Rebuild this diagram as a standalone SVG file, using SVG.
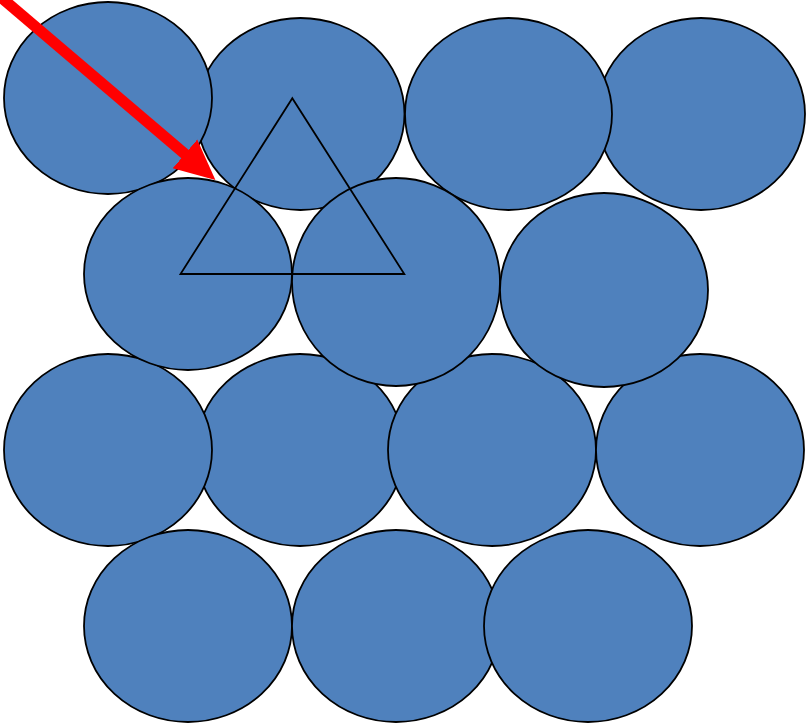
<svg xmlns="http://www.w3.org/2000/svg" width="806" height="724" viewBox="0 0 806 724">
<style>
.b{fill:#4F81BD;stroke:#000;stroke-width:1.8}
.tri{fill:none;stroke:#000;stroke-width:1.8;stroke-linejoin:miter}
.arr{stroke:#FF0000;stroke-width:11;fill:none}
</style>
<defs>
<marker id="ah" markerUnits="userSpaceOnUse" markerWidth="40" markerHeight="40" viewBox="0 0 36 34" refX="1" refY="17" orient="auto">
<path d="M0,0 L36,17 L0,34 Z" fill="#FF0000"/>
</marker>
</defs>
<rect width="806" height="724" fill="#fff"/>
<g id="e9"><ellipse class="b" cx="300" cy="450" rx="104" ry="96"/></g>
<g id="e8"><ellipse class="b" cx="108" cy="450" rx="104" ry="96"/></g>
<g id="e10"><ellipse class="b" cx="492" cy="450" rx="104" ry="96"/></g>
<g id="e11"><ellipse class="b" cx="700" cy="450" rx="104" ry="96"/></g>
<g id="e12"><ellipse class="b" cx="188" cy="626" rx="104" ry="96"/></g>
<g id="e13"><ellipse class="b" cx="396" cy="626" rx="104" ry="96"/></g>
<g id="e14"><ellipse class="b" cx="588" cy="626" rx="104" ry="96"/></g>
<g id="e2"><ellipse class="b" cx="300.5" cy="114" rx="104" ry="96"/></g>
<g id="e1"><ellipse class="b" cx="108" cy="98" rx="104" ry="96"/></g>
<g id="e4"><ellipse class="b" cx="701" cy="114" rx="104" ry="96"/></g>
<g id="e3"><ellipse class="b" cx="508.5" cy="114" rx="103.5" ry="96"/></g>
<g id="e5"><ellipse class="b" cx="188" cy="274" rx="104" ry="96"/></g>
<g id="e6"><ellipse class="b" cx="396" cy="282" rx="104" ry="104"/></g>
<g id="e7"><ellipse class="b" cx="604" cy="290" rx="104" ry="97"/></g>
<g id="triangle"><polygon class="tri" points="292.3,98.3 180.5,274 404.3,274"/></g>
<g id="connectors">
<line class="arr" x1="-11.1" y1="-13" x2="185.8" y2="154.7" marker-end="url(#ah)"/>
</g>
</svg>
